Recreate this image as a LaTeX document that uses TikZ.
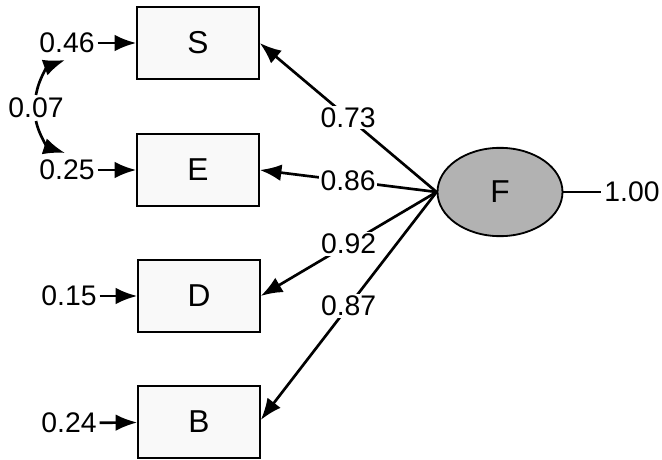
\documentclass[tikz,border=0pt]{standalone}
\usepackage{fontspec}
\setmainfont{Liberation Sans}
\usetikzlibrary{arrows.meta}
\usetikzlibrary{quotes}
\usetikzlibrary{shapes.geometric}

\begin{document}
\begin{tikzpicture}[x=0.6pt,y=-0.6pt,line width=1.6pt,
  arr/.style={-{Latex[length=13pt,width=10pt]}},
  every edge quotes/.style={fill=white,inner sep=1pt,font=\fontsize{17}{19}\selectfont},
  var/.style={draw,line width=1.1pt,fill=gray!5,minimum width=73pt,minimum height=43pt,font=\fontsize{19}{21}\selectfont},
  err/.style={font=\fontsize{17}{19}\selectfont,inner sep=1pt}]
\useasboundingbox (0,0) rectangle (662,460);
\node[var] (s) at (198,43) {S};
\node[var] (e) at (198,170) {E};
\node[var] (d) at (199,296) {D};
\node[var] (b) at (199,422) {B};
\node[ellipse,draw,line width=1.1pt,fill=gray!60,minimum width=75pt,minimum height=53pt,inner sep=0pt,font=\fontsize{19}{21}\selectfont] (f) at (500,192) {F};
\node[err] (e1) at (67,43) {0.46};
\node[err] (e2) at (67,170) {0.25};
\node[err] (e3) at (69,296) {0.15};
\node[err] (e4) at (69,423) {0.24};
\node[err] (r) at (36,108) {0.07};
\node[err] (v) at (632,192) {1.00};
\coordinate (t1) at (65,60);
\coordinate (t2) at (65,153);
\draw (e1) edge[arr] (s) ;
\draw (e2) edge[arr] (e) ;
\draw (e3) edge[arr] (d) ;
\draw (e4) edge[arr] (b) ;
\draw (r.north) edge[arr,bend left=30] (t1) ;
\draw (r.south) edge[arr,bend right=30] (t2) ;
\draw (f.west) edge["0.73",arr] (s.east |- 0,43) ;
\draw (f.west) edge["0.86",arr] (e.east) ;
\draw (f.west) edge["0.92",arr] (d.east) ;
\draw (f.west) edge["0.87",arr] (b.east |- 0,420) ;
\draw (f.east) -- (v.west) ;
\end{tikzpicture}
\end{document}
